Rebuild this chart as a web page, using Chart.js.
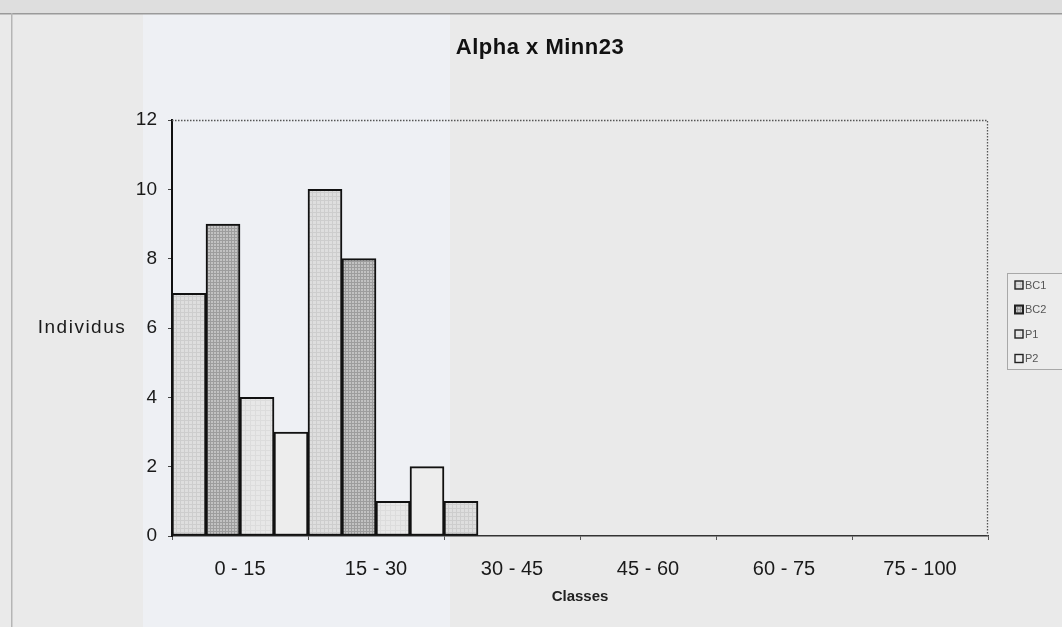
<!DOCTYPE html>
<html>
<head>
<meta charset="utf-8">
<script src="https://cdn.jsdelivr.net/npm/chart.js@4/dist/chart.umd.min.js"></script>
<style>
  html, body { margin: 0; padding: 0; background: #ebebeb; }
  #wrap { width: 1062px; height: 627px; }
</style>
</head>
<body>
<div id="wrap"><canvas id="c" width="1062" height="627"></canvas></div>
<script>
// Distribution of individuals per class for each population
const categories = ['0 - 15', '15 - 30', '30 - 45', '45 - 60', '60 - 75', '75 - 100'];
const seriesNames = ['BC1', 'BC2', 'P1', 'P2'];
const bc1 = [7, 10, 1, 0, 0, 0];
const bc2 = [9, 8, 0, 0, 0, 0];
const p1 = [4, 1, 0, 0, 0, 0];
const p2 = [3, 2, 0, 0, 0, 0];
const yTicks = [0, 2, 4, 6, 8, 10, 12];

const chartTitle = 'Alpha x Minn23';
const yTitle = 'Individus';
const xTitle = 'Classes';

// Small halftone-like fills for the shaded series
function makePattern(base, line, step) {
  const p = document.createElement('canvas');
  p.width = step; p.height = step;
  const g = p.getContext('2d');
  g.fillStyle = base; g.fillRect(0, 0, step, step);
  g.fillStyle = line;
  g.fillRect(0, 0, step, 1);
  g.fillRect(0, 0, 1, step);
  return g.createPattern(p, 'repeat');
}

const ctx0 = document.getElementById('c').getContext('2d');
const fills = [
  makePattern('#dedede', '#cdcdcd', 4),
  makePattern('#c2c2c2', '#9d9d9d', 3),
  makePattern('#e7e7e7', '#dcdcdc', 5),
  '#ededed'
];
const seriesData = [bc1, bc2, p1, p2];

const pageBackground = {
  id: 'pageBackground',
  beforeDraw(chart) {
    const c = chart.ctx;
    c.save();
    c.fillStyle = '#eaeaea';
    c.fillRect(0, 0, chart.width, chart.height);
    c.fillStyle = '#eef0f4';
    c.fillRect(143, 14, 307, chart.height - 14);
    c.fillStyle = '#dedede';
    c.fillRect(0, 0, chart.width, 13);
    c.fillStyle = '#9a9a9a';
    c.fillRect(0, 13, chart.width, 1.5);
    c.fillStyle = '#b5b5b5';
    c.fillRect(11, 13, 1.5, chart.height - 13);
    c.restore();
  }
};

const decorations = {
  id: 'decorations',
  afterDraw(chart) {
    const c = chart.ctx;
    const a = chart.chartArea;
    c.save();
    // dotted frame on the top and right of the plot area
    c.strokeStyle = '#555';
    c.lineWidth = 1.3;
    c.setLineDash([1.5, 1.5]);
    c.beginPath();
    c.moveTo(a.left, a.top + 0.5);
    c.lineTo(a.right - 0.5, a.top + 0.5);
    c.lineTo(a.right - 0.5, a.bottom);
    c.stroke();
    c.setLineDash([]);

    // title
    c.fillStyle = '#111';
    c.textAlign = 'center';
    c.textBaseline = 'middle';
    c.font = 'bold 22px "Liberation Sans", Arial, sans-serif';
    c.letterSpacing = '0.5px';
    c.fillText(chartTitle, 540, 48);

    // horizontal y-axis title
    c.font = '19px "Liberation Sans", Arial, sans-serif';
    c.letterSpacing = '1.5px';
    c.fillStyle = '#1a1a1a';
    const yMid = chart.scales.y.getPixelForValue(6);
    c.fillText(yTitle, 82, yMid);
    c.letterSpacing = '0px';

    // legend
    const lx = 1007, ly = 273, lw = 55, lh = 96;
    c.fillStyle = '#ececec';
    c.fillRect(lx, ly, lw, lh);
    c.strokeStyle = '#a8a8a8';
    c.lineWidth = 1;
    c.strokeRect(lx + 0.5, ly + 0.5, lw, lh);
    c.font = '11px "Liberation Sans", Arial, sans-serif';
    c.textAlign = 'left';
    seriesNames.forEach((name, i) => {
      const y = 285 + i * 24.5;
      c.fillStyle = fills[i];
      c.fillRect(1015, y - 4, 8, 8);
      c.strokeStyle = '#222';
      c.lineWidth = i === 1 ? 2 : 1.4;
      c.strokeRect(1015, y - 4, 8, 8);
      c.fillStyle = '#555';
      c.fillText(name, 1025, y + 0.5);
    });
    c.restore();
  }
};

new Chart(ctx0, {
  type: 'bar',
  data: {
    labels: categories,
    datasets: seriesNames.map((name, i) => ({
      label: name,
      data: seriesData[i],
      backgroundColor: fills[i],
      borderColor: '#111',
      borderWidth: 2,
      borderSkipped: false,
      categoryPercentage: 1.0,
      barPercentage: 1.0
    }))
  },
  options: {
    responsive: false,
    animation: false,
    devicePixelRatio: 1,
    layout: { padding: { top: 120, right: 74, left: 0, bottom: 0 } },
    plugins: {
      legend: { display: false },
      title: { display: false },
      tooltip: { enabled: false }
    },
    scales: {
      x: {
        afterFit(s) { s.height = 91; },
        grid: { drawOnChartArea: false, drawTicks: true, tickLength: 4, color: '#555' },
        border: { display: true, color: '#333', width: 1.5 },
        ticks: {
          color: '#1a1a1a',
          padding: 17,
          font: { family: '"Liberation Sans", Arial, sans-serif', size: 20 }
        },
        title: {
          display: true,
          text: xTitle,
          color: '#222',
          font: { family: '"Liberation Sans", Arial, sans-serif', size: 15, weight: 'bold' },
          padding: { top: 0, bottom: 21 }
        }
      },
      y: {
        min: 0,
        max: 12,
        afterFit(s) { s.width = 172; },
        afterBuildTicks(s) { s.ticks = yTicks.map(v => ({ value: v })); },
        grid: { drawOnChartArea: false, drawTicks: true, tickLength: 4, color: '#444' },
        border: { display: true, color: '#111', width: 2 },
        ticks: {
          color: '#1a1a1a',
          padding: 11,
          font: { family: '"Liberation Sans", Arial, sans-serif', size: 19 }
        }
      }
    }
  },
  plugins: [pageBackground, decorations]
});
</script>
</body>
</html>
